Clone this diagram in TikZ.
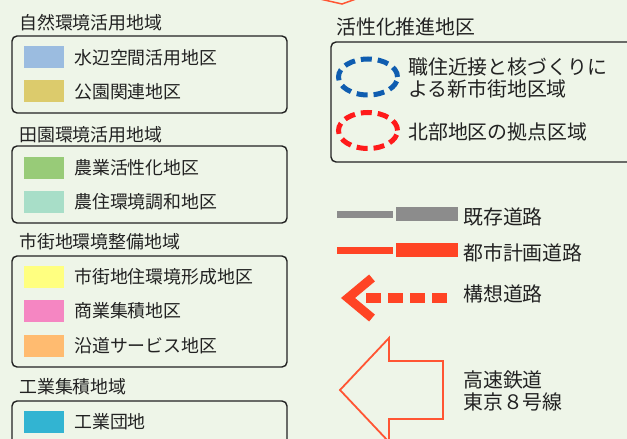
\documentclass[tikz,border=0pt]{standalone}
\usepackage{fontspec}
\newfontfamily\jp{Noto Sans CJK JP}
\definecolor{bg}{HTML}{EEF5E8}
\definecolor{ink}{HTML}{222222}
\definecolor{cwater}{HTML}{9BBCE0}
\definecolor{cpark}{HTML}{DCCB6C}
\definecolor{cagri}{HTML}{98CB78}
\definecolor{crural}{HTML}{A8DEC8}
\definecolor{cresid}{HTML}{FFFF80}
\definecolor{ccomm}{HTML}{F586C2}
\definecolor{croad}{HTML}{FFBB70}
\definecolor{cind}{HTML}{32B4D2}
\definecolor{dblue}{HTML}{0F5DB0}
\definecolor{dred}{HTML}{FF1A1A}
\definecolor{rred}{HTML}{FF4424}
\definecolor{agrey}{HTML}{8C8C8C}
\definecolor{arrred}{HTML}{FF5533}
\tikzset{
  grp/.style={draw=ink, line width=1.4pt, rounded corners=5pt},
  sw/.style={minimum width=40pt, minimum height=22pt, inner sep=0pt, draw=none},
  lt/.style={anchor=west, inner sep=0pt, text=ink, font=\jp\fontsize{17.9}{20}\selectfont},
  rt/.style={anchor=west, inner sep=0pt, text=ink, font=\jp\fontsize{19.9}{22}\selectfont},
  dell/.style={line width=5pt, dash pattern=on 11pt off 6pt},
}
\begin{document}
\begin{tikzpicture}[x=1pt,y=-1pt]
\fill[bg] (0,0) rectangle (627,439);
\useasboundingbox (0,0) rectangle (627,439);
\clip (0,0) rectangle (627,439);
% top chevron (cut-off arrow)
\draw[arrred, line width=1.5pt] (320,-1) -- (342,4) -- (356,-1);
% ---- left legend ----
\node[lt] (t1) at (19,23) {自然環境活用地域};
\draw[grp] (12,36) rectangle (287,113);
\node[sw, fill=cwater] (s1) at (44,57) {};
\node[lt] (l1) at (74,58) {水辺空間活用地区};
\node[sw, fill=cpark] (s2) at (44,91) {};
\node[lt] (l2) at (74,92) {公園関連地区};

\node[lt] (t2) at (19,135) {田園環境活用地域};
\draw[grp] (12,146) rectangle (287,223);
\node[sw, fill=cagri] (s3) at (44,168) {};
\node[lt] (l3) at (74,168) {農業活性化地区};
\node[sw, fill=crural] (s4) at (44,202) {};
\node[lt] (l4) at (74,202) {農住環境調和地区};

\node[lt] (t3) at (19,242) {市街地環境整備地域};
\draw[grp] (12,256) rectangle (287,367);
\node[sw, fill=cresid] (s5) at (44,277) {};
\node[lt] (l5) at (74,277) {市街地住環境形成地区};
\node[sw, fill=ccomm] (s6) at (44,310.5) {};
\node[lt] (l6) at (74,311) {商業集積地区};
\node[sw, fill=croad] (s7) at (44,345.5) {};
\node[lt] (l7) at (74,346) {沿道サービス地区};

\node[lt] (t4) at (19,387) {工業集積地域};
\draw[grp] (12,401) rectangle (287,460);
\node[sw, fill=cind] (s8) at (44,422) {};
\node[lt] (l8) at (74,422) {工業団地};
% ---- right legend ----
\node[rt] (t5) at (336,27) {活性化推進地区};
\draw[grp] (331,42) rectangle (660,162);
\draw[dell, dblue] (368,77) ellipse [x radius=29.5pt, y radius=18pt];
\node[rt] (r1) at (408,67) {職住近接と核づくりに};
\node[rt] (r2) at (408,89) {よる新市街地区域};
\draw[dell, dred] (368,130.5) ellipse [x radius=29.5pt, y radius=18pt];
\node[rt] (r3) at (408,132) {北部地区の拠点区域};
% roads
\fill[agrey] (337,210.5) rectangle (393,217.5);
\fill[agrey] (396,207) rectangle (458,221);
\node[rt] (r4) at (463,217) {既存道路};
\fill[rred] (337,247) rectangle (393,254);
\fill[rred] (396,243) rectangle (458,257);
\node[rt] (r5) at (463,253) {都市計画道路};
\draw[rred, line width=9pt, miter limit=10] (372,278) -- (348,298) -- (372,318);
\draw[rred, line width=10pt, dash pattern=on 15pt off 7pt] (366,298) -- (448,298);
\node[rt] (r6) at (463,294) {構想道路};
% railway arrow
\draw[arrred, line width=1.8pt, line join=miter] (340,390) -- (389,338) -- (389,361) -- (443,361) -- (443,419) -- (389,419) -- (389,442) -- cycle;
\node[rt] (r7) at (463,380) {高速鉄道};
\node[rt] (r8) at (463,402) {東京８号線};
\end{tikzpicture}
\end{document}
